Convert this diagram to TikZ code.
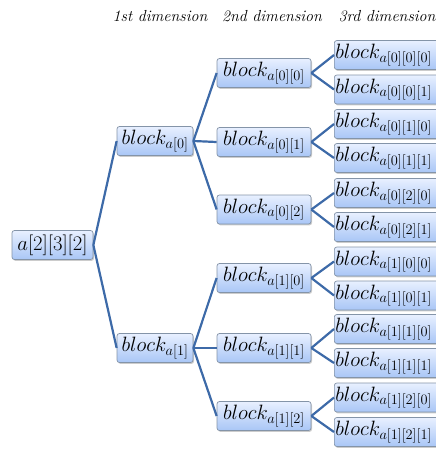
\documentclass[tikz,border=0pt]{standalone}
\usepackage{amsmath}
\usepackage{tikz}
\usetikzlibrary{shadows}

\DeclareMathSizes{20}{20}{15.5}{12}

\definecolor{boxtop}{HTML}{E8F0FF}
\definecolor{boxbot}{HTML}{A9C6F6}
\definecolor{boxline}{HTML}{8494A8}
\definecolor{linkblue}{HTML}{3D6AA8}

\begin{document}
\begin{tikzpicture}[x=1pt, y=-1pt]
    \tikzset{
        n/.style        =   { rectangle
                            , rounded corners=2.5pt
                            , draw=boxline
                            , line width=0.7pt
                            , top color=boxtop
                            , bottom color=boxbot
                            , drop shadow={shadow xshift=1pt, shadow yshift=-1.4pt, opacity=0.4}
                            , minimum height=29pt
                            , inner sep=1pt
                            , font=\fontsize{20}{22}\selectfont
        }
        , leaf/.style   =   { n
                            , anchor=west
                            , text width=122pt
                            , align=left
        }
        , head/.style   =   { font=\itshape\fontsize{16}{18}\selectfont
        }
        , link/.style   =   { draw=linkblue
                            , line width=2.2pt
        }
    }
    \useasboundingbox (0,0) rectangle (436,453);
    \clip (0,0) rectangle (436,453);

    \node(h1)[head] at (160,16) {1st dimension};
    \node(h2)[head] at (272,16) {2nd dimension};
    \node(h3)[head, anchor=west] at (335,16) {3rd dimension};

    \node(root)[n, minimum width=81pt] at (52.5,245) {$a[2][3][2]$};

    \node(a0)[n, minimum width=76pt] at (155,141) {$block_{a[0]}$};
    \node(a1)[n, minimum width=76pt] at (155,348) {$block_{a[1]}$};

    \node(a00)[n, minimum width=94pt] at (264,73)    {$block_{a[0][0]}$};
    \node(a01)[n, minimum width=94pt] at (264,142)   {$block_{a[0][1]}$};
    \node(a02)[n, minimum width=94pt] at (264,209.5) {$block_{a[0][2]}$};
    \node(a10)[n, minimum width=94pt] at (264,278)   {$block_{a[1][0]}$};
    \node(a11)[n, minimum width=94pt] at (264,348)   {$block_{a[1][1]}$};
    \node(a12)[n, minimum width=94pt] at (264,416)   {$block_{a[1][2]}$};

    \node(a000)[leaf] at (334,55)    {$block_{a[0][0][0]}$};
    \node(a001)[leaf] at (334,89.5)  {$block_{a[0][0][1]}$};
    \node(a010)[leaf] at (334,124)   {$block_{a[0][1][0]}$};
    \node(a011)[leaf] at (334,158)   {$block_{a[0][1][1]}$};
    \node(a020)[leaf] at (334,193)   {$block_{a[0][2][0]}$};
    \node(a021)[leaf] at (334,227)   {$block_{a[0][2][1]}$};
    \node(a100)[leaf] at (334,261.5) {$block_{a[1][0][0]}$};
    \node(a101)[leaf] at (334,295.5) {$block_{a[1][0][1]}$};
    \node(a110)[leaf] at (334,329)   {$block_{a[1][1][0]}$};
    \node(a111)[leaf] at (334,363)   {$block_{a[1][1][1]}$};
    \node(a120)[leaf] at (334,397.5) {$block_{a[1][2][0]}$};
    \node(a121)[leaf] at (334,432)   {$block_{a[1][2][1]}$};

    \draw[link] (root.east) -- (a0.west);
    \draw[link] (root.east) -- (a1.west);

    \draw[link] (a0.east) -- (a00.west);
    \draw[link] (a0.east) -- (a01.west);
    \draw[link] (a0.east) -- (a02.west);
    \draw[link] (a1.east) -- (a10.west);
    \draw[link] (a1.east) -- (a11.west);
    \draw[link] (a1.east) -- (a12.west);

    \draw[link] (a00.east) -- (a000.west);
    \draw[link] (a00.east) -- (a001.west);
    \draw[link] (a01.east) -- (a010.west);
    \draw[link] (a01.east) -- (a011.west);
    \draw[link] (a02.east) -- (a020.west);
    \draw[link] (a02.east) -- (a021.west);
    \draw[link] (a10.east) -- (a100.west);
    \draw[link] (a10.east) -- (a101.west);
    \draw[link] (a11.east) -- (a110.west);
    \draw[link] (a11.east) -- (a111.west);
    \draw[link] (a12.east) -- (a120.west);
    \draw[link] (a12.east) -- (a121.west);
\end{tikzpicture}
\end{document}
